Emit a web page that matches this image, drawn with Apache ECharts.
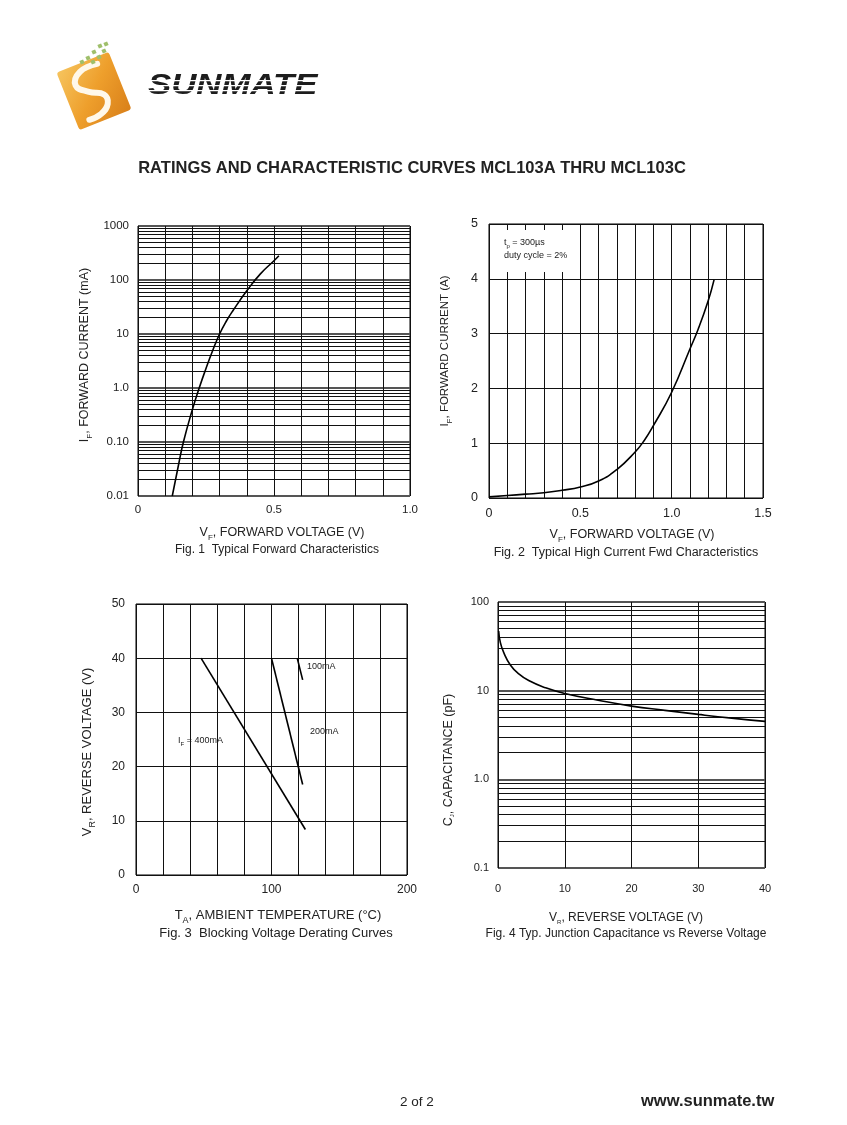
<!DOCTYPE html>
<html>
<head>
<meta charset="utf-8">
<script src="https://cdn.jsdelivr.net/npm/echarts@6/dist/echarts.min.js"></script>
<style>
html,body{margin:0;padding:0;background:#fff;}
#c{width:847px;height:1125px;}
</style>
</head>
<body>
<div id="c"></div>
<script>
// ---------- DATA ----------
// Fig.1 Typical Forward Characteristics (V, mA)
const fig1Volt = [0.126, 0.15, 0.167, 0.2, 0.225, 0.25, 0.275, 0.3, 0.325, 0.35, 0.4, 0.45, 0.5, 0.518];
const fig1Curr = [0.01, 0.04, 0.1, 0.4, 1.0, 2.3, 5.0, 10, 17.4, 27.5, 63, 130, 227, 281];
const fig1XLabels = ['0', '0.5', '1.0'];
const fig1YLabels = ['0.01', '0.10', '1.0', '10', '100', '1000'];

// Fig.2 Typical High Current Fwd Characteristics (V, A)
const fig2Volt = [0, 0.1, 0.2, 0.3, 0.4, 0.5, 0.6, 0.7, 0.8, 0.85, 0.9, 1.0, 1.1, 1.145, 1.2, 1.232];
const fig2Curr = [0.02, 0.045, 0.07, 0.095, 0.14, 0.2, 0.31, 0.52, 0.84, 1.05, 1.32, 1.93, 2.72, 3.08, 3.6, 3.98];
const fig2XLabels = ['0', '0.5', '1.0', '1.5'];
const fig2YLabels = ['0', '1', '2', '3', '4', '5'];

// Fig.3 Blocking Voltage Derating Curves (°C, V)
const fig3Temp400 = [48, 125];
const fig3Volt400 = [40, 8.4];
const fig3Temp200 = [100, 123];
const fig3Volt200 = [40, 16.7];
const fig3Temp100 = [119, 123];
const fig3Volt100 = [40, 36];
const fig3XLabels = ['0', '100', '200'];
const fig3YLabels = ['0', '10', '20', '30', '40', '50'];

// Fig.4 Typ. Junction Capacitance vs Reverse Voltage (V, pF)
const fig4Volt = [0.1, 0.35, 0.85, 1.85, 3.1, 4.6, 7.1, 10, 15, 20, 25, 30, 35, 40];
const fig4Cap = [47, 35, 27, 19.5, 15.5, 13, 10.8, 9.3, 7.8, 6.7, 6.0, 5.4, 4.9, 4.5];
const fig4XLabels = ['0', '10', '20', '30', '40'];
const fig4YLabels = ['0.1', '1.0', '10', '100'];

// ---------- helpers ----------
const FONT = 'Liberation Sans, Arial, sans-serif';
const TXT = '#222';
function zip(a, b) { return a.map((v, i) => [v, b[i]]); }
function logMinor(lo, hi) { // gridlines 2..9 in each decade
  const out = [];
  for (let d = lo; d < hi; d++) {
    for (let k = 2; k <= 9; k++) out.push(k * Math.pow(10, d));
  }
  return out;
}
function minorMarkLine(values) {
  return {
    silent: true, symbol: ['none', 'none'], animation: false,
    label: { show: false },
    lineStyle: { color: '#111', width: 1, type: 'solid' },
    emphasis: { disabled: true },
    data: values.map(v => ({ yAxis: v }))
  };
}
const split = { show: true, lineStyle: { color: '#111', width: 1 } };
const splitDecade = { show: true, lineStyle: { color: '#555', width: 2.2 } };
const lbl = (margin, size, fmt) => ({ fontSize: size, color: TXT, fontFamily: FONT, margin: margin, formatter: fmt, showMinLabel: true, showMaxLabel: true });

function richText(str, size, subSize) {
  return {
    text: str,
    rich: {
      n: { fontSize: size, fontFamily: FONT, fill: TXT, lineHeight: size + 2, verticalAlign: 'top' },
      s: { fontSize: subSize, fontFamily: FONT, fill: TXT, lineHeight: subSize, verticalAlign: 'top', padding: [Math.round(size * 0.6), 0, 0, 0] }
    }
  };
}
function gText(x, y, str, size, subSize, opts) {
  const st = Object.assign(richText(str, size, subSize || Math.round(size * 0.7)), {
    align: (opts && opts.align) || 'center', verticalAlign: 'middle'
  });
  return Object.assign({ type: 'text', x: x, y: y, style: st, z: 10 }, opts && opts.rot ? { rotation: opts.rot } : {});
}

const chart = echarts.init(document.getElementById('c'), null, { renderer: 'canvas' });

const grids = [
  { left: 138, top: 226, width: 272, height: 270 },
  { left: 489, top: 224, width: 274, height: 274 },
  { left: 136, top: 604, width: 271, height: 271 },
  { left: 498, top: 602, width: 267, height: 266 }
].map(g => Object.assign(g, { show: true, borderColor: '#000', borderWidth: 1, backgroundColor: 'transparent' }));

const common = { axisTick: { show: false }, axisLine: { show: false } };

const xAxes = [
  Object.assign({ gridIndex: 0, type: 'value', min: 0, max: 1, interval: 0.1, splitLine: split,
    axisLabel: lbl(8, 11.5, v => { const i = Math.round(v * 10); return i % 5 === 0 ? fig1XLabels[i / 5] : ''; }) }, common),
  Object.assign({ gridIndex: 1, type: 'value', min: 0, max: 1.5, interval: 0.1, splitLine: split,
    axisLabel: lbl(9, 12.5, v => { const i = Math.round(v * 10); return i % 5 === 0 ? fig2XLabels[i / 5] : ''; }) }, common),
  Object.assign({ gridIndex: 2, type: 'value', min: 0, max: 200, interval: 20, splitLine: split,
    axisLabel: lbl(9, 12, v => { const i = Math.round(v / 20); return i % 5 === 0 ? fig3XLabels[i / 5] : ''; }) }, common),
  Object.assign({ gridIndex: 3, type: 'value', min: 0, max: 40, interval: 10, splitLine: split,
    axisLabel: lbl(15, 11, v => fig4XLabels[Math.round(v / 10)]) }, common)
];
const yAxes = [
  Object.assign({ gridIndex: 0, type: 'log', logBase: 10, min: 0.01, max: 1000, splitLine: splitDecade,
    axisLabel: lbl(9, 11.5, v => fig1YLabels[Math.round(Math.log10(v)) + 2]) }, common),
  Object.assign({ gridIndex: 1, type: 'value', min: 0, max: 5, interval: 1, splitLine: split,
    axisLabel: lbl(11, 12.5, v => fig2YLabels[Math.round(v)]) }, common),
  Object.assign({ gridIndex: 2, type: 'value', min: 0, max: 50, interval: 10, splitLine: split,
    axisLabel: lbl(11, 12, v => fig3YLabels[Math.round(v / 10)]) }, common),
  Object.assign({ gridIndex: 3, type: 'log', logBase: 10, min: 0.1, max: 100, splitLine: splitDecade,
    axisLabel: lbl(9, 11, v => fig4YLabels[Math.round(Math.log10(v)) + 1]) }, common)
];

const curve = { type: 'line', showSymbol: false, symbol: 'none', silent: true, animation: false,
  lineStyle: { color: '#000', width: 1.6 }, z: 5 };

const series = [
  Object.assign({}, curve, { xAxisIndex: 0, yAxisIndex: 0, smooth: true, data: zip(fig1Volt, fig1Curr),
    markLine: minorMarkLine(logMinor(-2, 3)) }),
  Object.assign({}, curve, { xAxisIndex: 1, yAxisIndex: 1, smooth: true, data: zip(fig2Volt, fig2Curr) }),
  Object.assign({}, curve, { xAxisIndex: 2, yAxisIndex: 2, data: zip(fig3Temp400, fig3Volt400) }),
  Object.assign({}, curve, { xAxisIndex: 2, yAxisIndex: 2, data: zip(fig3Temp200, fig3Volt200) }),
  Object.assign({}, curve, { xAxisIndex: 2, yAxisIndex: 2, data: zip(fig3Temp100, fig3Volt100) }),
  Object.assign({}, curve, { xAxisIndex: 3, yAxisIndex: 3, smooth: true, data: zip(fig4Volt, fig4Cap),
    markLine: minorMarkLine(logMinor(-1, 2)) })
];

// ---------- logo ----------
const logo = [
  { type: 'group', x: 94, y: 91, rotation: 0.38, z: 20, children: [
    { type: 'rect', shape: { x: -28, y: -31, width: 56, height: 62, r: 3 },
      style: { fill: new echarts.graphic.LinearGradient(0, 0, 1, 1, [
        { offset: 0, color: '#f6c45e' }, { offset: 0.5, color: '#ee9f2c' }, { offset: 1, color: '#d9801a' }]) } },
    { type: 'polyline', shape: { points: [[13, -24], [-6, -23], [-15, -12], [-5, -1], [8, 7], [8, 17], [-2, 24], [-15, 25]], smooth: 0.45 },
      style: { fill: 'none', stroke: '#fff8ea', lineWidth: 6, lineCap: 'round' } }
  ] },
  ...[[100, 46], [104, 51], [94, 52], [99, 57], [88, 58], [93, 62], [82, 62], [106, 44]].map(p => ({
    type: 'rect', x: p[0], y: p[1], shape: { x: -2, y: -2, width: 4, height: 4 }, rotation: 0.4,
    style: { fill: '#9fbf6a' }, z: 21 })),
  { type: 'text', x: 148, y: 86, scaleX: 1.2, z: 20,
    style: { text: 'SUNMATE', fontSize: 29, fontWeight: 'bold', fontStyle: 'italic', fontFamily: 'Liberation Sans, Arial',
      fill: '#1d1d1d', verticalAlign: 'middle', align: 'left' } },
  ...[80, 85, 90, 95].map(y => ({ type: 'rect', shape: { x: 146, y: y, width: 178, height: 1.2 },
    style: { fill: '#ffffff' }, z: 22 }))
];

const graphics = [
  ...logo,
  { type: 'text', x: 412, y: 168, z: 10, style: { text: 'RATINGS AND CHARACTERISTIC CURVES MCL103A THRU MCL103C',
    fontSize: 16.5, fontWeight: 'bold', fontFamily: FONT, fill: '#222', align: 'center', verticalAlign: 'middle' } },
  // Fig 1 titles
  gText(85, 355, '{n|I}{s|F}{n|, FORWARD CURRENT (mA)}', 12.5, 8, { rot: Math.PI / 2 }),
  gText(282, 533, '{n|V}{s|F}{n|, FORWARD VOLTAGE (V)}', 12.5, 8),
  gText(277, 551, '{n|Fig. 1  Typical Forward Characteristics}', 12),
  // Fig 2 titles
  gText(446, 351, '{n|I}{s|F}{n|, FORWARD CURRENT (A)}', 11.5, 8, { rot: Math.PI / 2 }),
  gText(632, 535, '{n|V}{s|F}{n|, FORWARD VOLTAGE (V)}', 12.5, 8),
  gText(626, 553, '{n|Fig. 2  Typical High Current Fwd Characteristics}', 12.5),
  { type: 'rect', shape: { x: 497, y: 230, width: 73, height: 42 }, style: { fill: '#fff' }, z: 8 },
  gText(504, 244, '{n|t}{s|p}{n| = 300µs}', 9, 6, { align: 'left' }),
  gText(504, 257, '{n|duty cycle = 2%}', 9, 6, { align: 'left' }),
  // Fig 3 titles
  gText(88, 752, '{n|V}{s|R}{n|, REVERSE VOLTAGE (V)}', 13, 9, { rot: Math.PI / 2 }),
  gText(278, 916, '{n|T}{s|A}{n|, AMBIENT TEMPERATURE (°C)}', 13, 9),
  gText(276, 934, '{n|Fig. 3  Blocking Voltage Derating Curves}', 13),
  gText(307, 668, '{n|100mA}', 9, 6, { align: 'left' }),
  gText(310, 733, '{n|200mA}', 9, 6, { align: 'left' }),
  gText(178, 742, '{n|I}{s|F}{n| = 400mA}', 9, 6, { align: 'left' }),
  // Fig 4 titles
  gText(449, 760, '{n|C}{s|J}{n|, CAPACITANCE (pF)}', 12.5, 6, { rot: Math.PI / 2 }),
  gText(626, 919, '{n|V}{s|R}{n|, REVERSE VOLTAGE (V)}', 12, 6),
  gText(626, 935, '{n|Fig. 4 Typ. Junction Capacitance vs Reverse Voltage}', 12),
  // footer
  { type: 'text', x: 400, y: 1102, z: 10, style: { text: '2 of 2', fontSize: 13.5, fontFamily: FONT, fill: '#222', align: 'left', verticalAlign: 'middle' } },
  { type: 'text', x: 641, y: 1101, z: 10, style: { text: 'www.sunmate.tw', fontSize: 16.5, fontWeight: 'bold', fontFamily: FONT, fill: '#222', align: 'left', verticalAlign: 'middle' } }
];

chart.setOption({
  animation: false,
  backgroundColor: '#fff',
  grid: grids,
  xAxis: xAxes,
  yAxis: yAxes,
  series: series,
  graphic: graphics
});
</script>
</body>
</html>
